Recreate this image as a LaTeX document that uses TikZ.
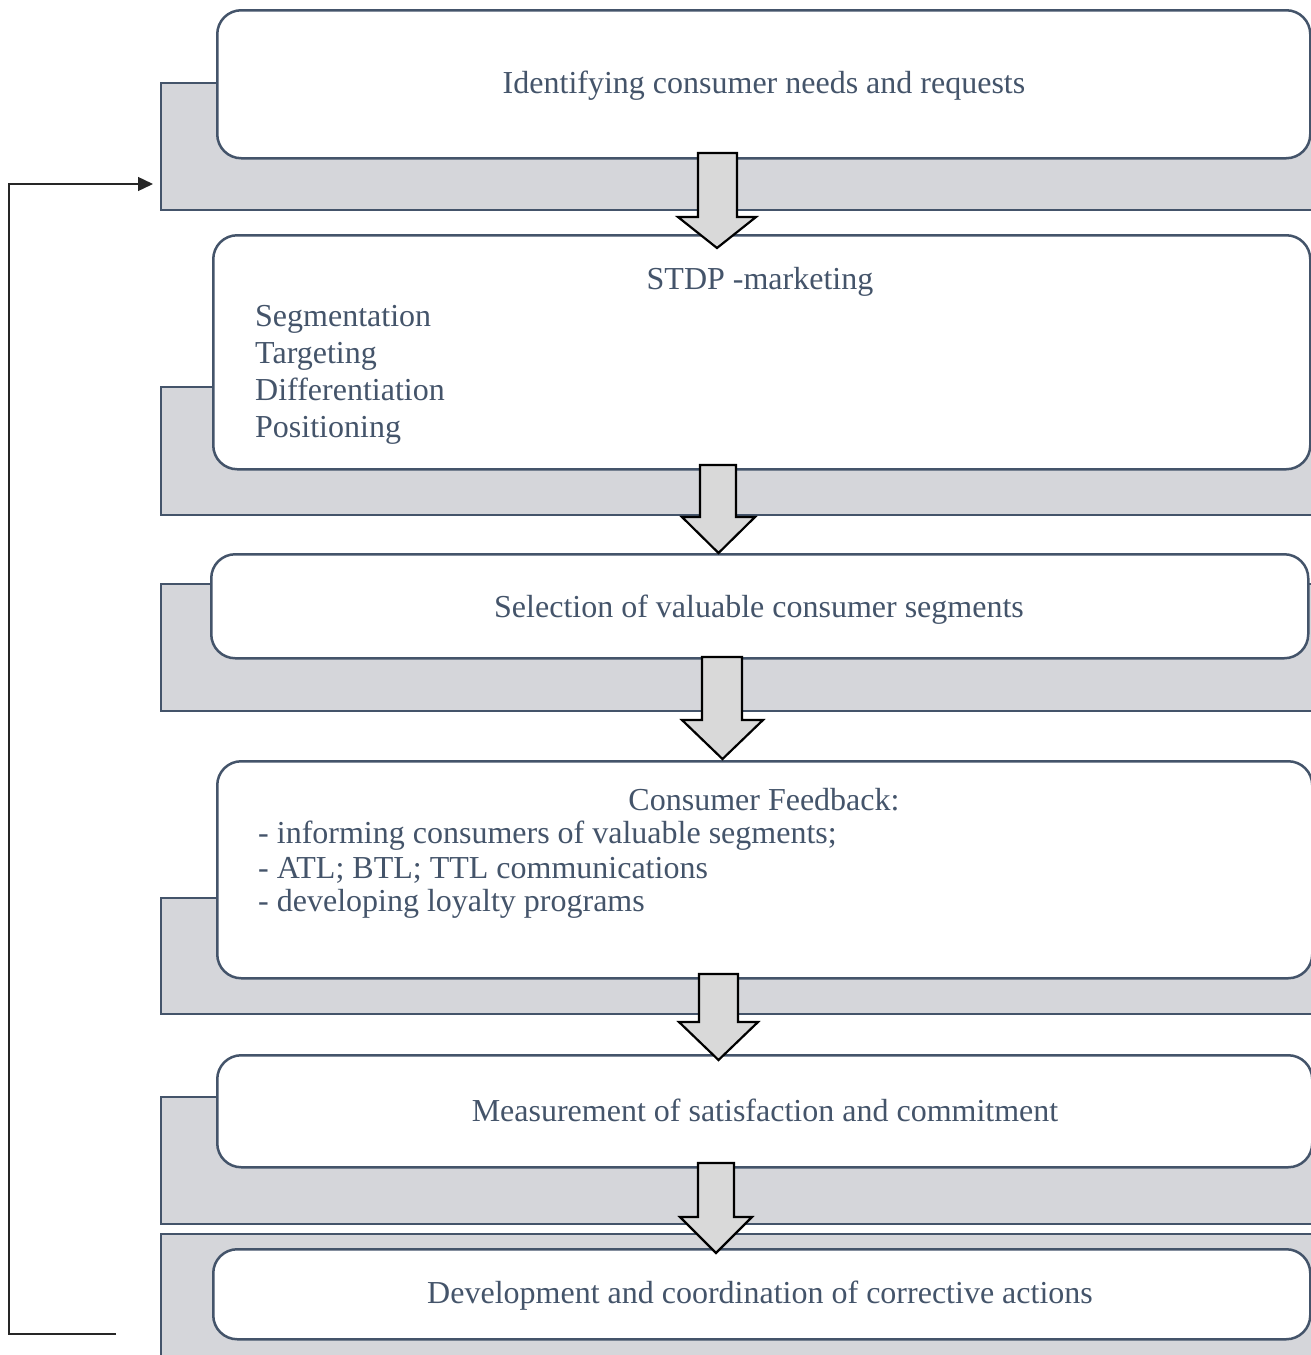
\documentclass[tikz,border=0pt]{standalone}
\usepackage{fontspec}
\setmainfont{Liberation Serif}
\usetikzlibrary{arrows.meta}
\definecolor{bord}{HTML}{44546A}
\definecolor{txt}{HTML}{44546A}
\definecolor{barfill}{HTML}{D5D6DA}
\definecolor{arrfill}{HTML}{D9D9D9}
\tikzset{
  bar/.style={draw=bord, fill=barfill, line width=2.5pt},
  rbox/.style={draw=bord, fill=white, line width=2.5pt, rounded corners=24pt, inner sep=0pt, anchor=north west},
  lbl/.style={text=txt, font=\fontsize{32}{37}\selectfont, inner sep=0pt},
  blk/.style={draw=black, fill=arrfill, line width=2.2pt, line join=miter},
  fb/.style={draw=black!85, line width=1.4pt}
}
\newcommand{\dnarrow}[7]{\draw[blk] (#1,#3) -- (#2,#3) -- (#2,#4) -- (#6,#4) -- ({(#5+#6)/2},#7) -- (#5,#4) -- (#1,#4) -- cycle;}
\begin{document}
\begin{tikzpicture}[x=1pt,y=-1pt]
\useasboundingbox (0,0) rectangle (1311,1355);
\clip (0,0) rectangle (1311,1355);
% grey bars
\draw[bar] (161,83) rectangle (1330,210);
\draw[bar] (161,387) rectangle (1330,515);
\draw[bar] (161,584) rectangle (1330,711);
\draw[bar] (161,898) rectangle (1330,1014);
\draw[bar] (161,1097) rectangle (1330,1224);
\draw[bar] (161,1234) rectangle (1330,1380);
% white boxes
\node[rbox, minimum width=1093pt, minimum height=148pt] (b1) at (216,9) {};
\node[rbox, minimum width=1097pt, minimum height=234pt] (b2) at (212,234) {};
\node[rbox, minimum width=1097pt, minimum height=104pt] (b3) at (210,553) {};
\node[rbox, minimum width=1095pt, minimum height=217pt] (b4) at (216,760) {};
\node[rbox, minimum width=1095pt, minimum height=112pt] (b5) at (216,1054) {};
\node[rbox, minimum width=1097pt, minimum height=90pt] (b6) at (212,1248) {};
% texts
\node[lbl, anchor=base] (t1) at (764,93) {Identifying consumer needs and requests};
\node[lbl, anchor=base] (t2) at (760,289) {STDP -marketing};
\node[lbl, anchor=base west] (t2a) at (255,326) {Segmentation};
\node[lbl, anchor=base west] (t2b) at (255,363) {Targeting};
\node[lbl, anchor=base west] (t2c) at (255,400) {Differentiation};
\node[lbl, anchor=base west] (t2d) at (255,437) {Positioning};
\node[lbl, anchor=base] (t3) at (759,617) {Selection of valuable consumer segments};
\node[lbl, anchor=base] (t4) at (764,810) {Consumer Feedback:};
\node[lbl, anchor=base west] (t4a) at (258,843) {- informing consumers of valuable segments;};
\node[lbl, anchor=base west] (t4b) at (258,878) {- ATL; BTL; TTL communications};
\node[lbl, anchor=base west] (t4c) at (258,911) {- developing loyalty programs};
\node[lbl, anchor=base] (t5) at (765,1121) {Measurement of satisfaction and commitment};
\node[lbl, anchor=base] (t6) at (760,1303) {Development and coordination of corrective actions};
% block arrows
\dnarrow{698}{737}{153}{217}{678}{756}{248}
\dnarrow{700}{736}{465}{517}{682}{755}{553}
\dnarrow{702}{742}{657}{720}{682}{763}{759}
\dnarrow{699}{738}{974}{1022}{679}{758}{1060}
\dnarrow{698}{734}{1163}{1217}{680}{752}{1253}
% feedback loop
\coordinate (fbA) at (116,1334);
\coordinate (fbB) at (153,184);
\draw[fb, -{Triangle[length=15pt,width=14pt]}] (fbA) -- (9,1334) -- (9,184) -- (fbB);
\end{tikzpicture}
\end{document}
